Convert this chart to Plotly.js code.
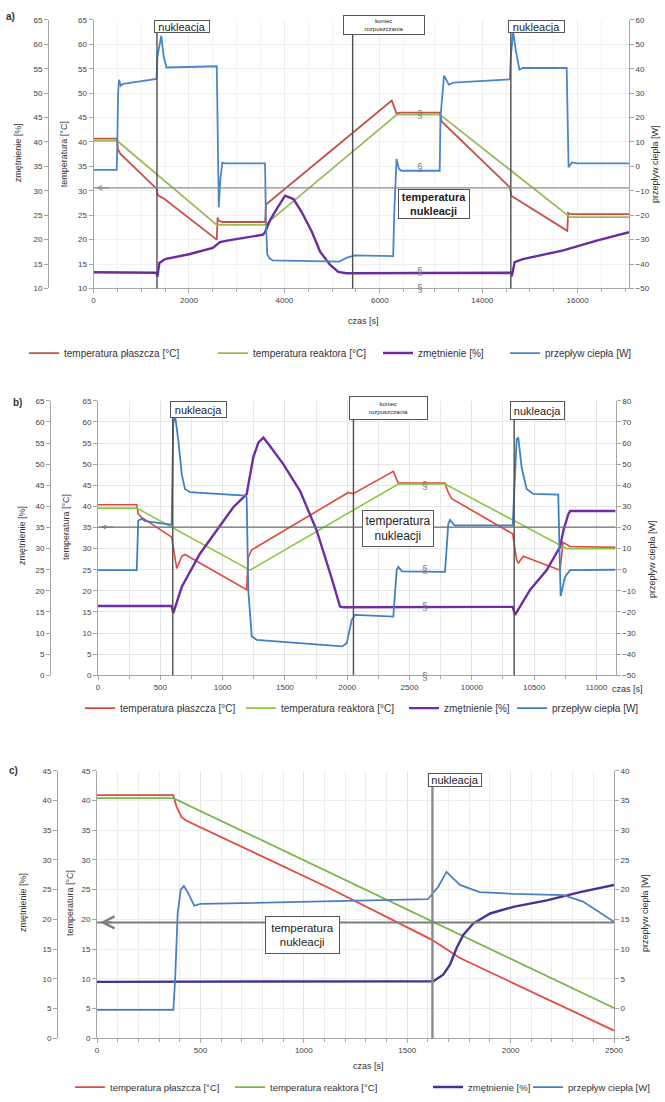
<!DOCTYPE html>
<html><head><meta charset="utf-8">
<script src="https://cdn.plot.ly/plotly-3.0.1.min.js"></script>
<style>html,body{margin:0;padding:0;background:#fff}#chart{width:665px;height:1102px}</style>
</head><body><div id="chart"></div>
<script>
// ---------------- DATA ----------------
const seriesNames = ['temperatura płaszcza [°C]', 'temperatura reaktora [°C]', 'zmętnienie [%]', 'przepływ ciepła [W]'];

// Panel a) – time [s]; axis broken between ~6845 s and ~12700 s
const aJacketT = [0, 486, 515, 560, 1325, 1345, 1400, 1460, 2583, 2600, 2625, 2700, 3595, 3615, 6250, 6350, 6420, 6840, 12700, 13110, 13150, 14580, 14610, 14650, 15783, 15800, 15850, 17076];
const aJacketV = [40.7, 40.7, 38.5, 37.6, 30.4, 29.2, 28.8, 28.5, 20.0, 24.5, 23.9, 23.6, 23.6, 27.2, 48.5, 45.8, 46.0, 46.0, 46.0, 46.0, 44.2, 30.7, 29.0, 28.7, 21.8, 25.5, 25.2, 25.2];
const aReactorT = [0, 500, 2583, 3595, 6356, 6840, 12700, 13114, 15840, 17076];
const aReactorV = [40.2, 40.2, 23.0, 23.0, 45.6, 45.6, 45.6, 45.6, 24.6, 24.6];
const aTurbT = [0, 1320, 1340, 1380, 1500, 2000, 2500, 2650, 2800, 3550, 3600, 3700, 3840, 4015, 4190, 4365, 4575, 4750, 4960, 5130, 5300, 6840, 12700, 14600, 14620, 14680, 14850, 15700, 16400, 17076];
const aTurbV = [13.3, 13.2, 12.4, 15.2, 16.0, 17.0, 18.3, 19.5, 19.8, 21.0, 21.6, 24.0, 26.3, 29.0, 28.3, 25.6, 21.6, 17.5, 14.8, 13.4, 13.1, 13.2, 13.2, 13.2, 12.5, 15.4, 16.0, 17.8, 19.8, 21.5];
const aHeatT = [0, 486, 500, 515, 535, 570, 620, 1320, 1340, 1420, 1470, 1530, 2583, 2600, 2625, 2660, 2700, 2760, 3595, 3610, 3640, 3680, 3750, 5150, 5300, 5480, 6280, 6300, 6350, 6400, 6450, 6840, 12700, 13110, 13125, 13200, 13300, 13400, 14580, 14600, 14650, 14700, 14780, 14850, 15770, 15790, 15810, 15880, 16000, 17076];
const aHeatV = [-1.4, -1.4, 10, 30, 35.5, 33.0, 33.8, 35.8, 45, 53.5, 45, 40.5, 41.0, 20, -16.7, -5, 1.5, 1.2, 1.2, -20, -36, -37.5, -38.5, -39.0, -37.5, -36.5, -36.8, -20, 3.0, -1.0, -1.8, -1.8, -1.8, -1.8, 20, 37.2, 33.5, 34.3, 35.6, 45, 55.2, 48, 39.6, 40.3, 40.3, 20, -0.4, 1.6, 1.2, 1.2];
const aNucleation = [1330, 14600];
const aEndDissolution = 5430;
const aNucTemp = 30.6;
const aTicks = [0, 2000, 4000, 6000, 14000, 16000];
const aMinorTicks = [0, 500, 1000, 1500, 2000, 2500, 3000, 3500, 4000, 4500, 5000, 5500, 6000, 6500, 13000, 13500, 14000, 14500, 15000, 15500, 16000, 16500, 17000];

// Panel b) – axis broken between ~2625 s and ~9625 s
const bJacketT = [0, 311, 323, 351, 591, 618, 632, 672, 698, 1193, 1206, 1234, 1942, 2009, 2049, 2370, 2410, 2620, 9630, 9785, 9811, 9839, 10328, 10360, 10373, 10413, 10708, 10732, 10788, 11154];
const bJacketV = [40.4, 40.4, 38.2, 37.4, 32.7, 28.4, 25.3, 28.2, 28.6, 20.3, 28.0, 29.7, 42.2, 43.3, 43.0, 48.3, 45.5, 45.5, 45.5, 45.5, 43.3, 41.8, 33.5, 27.3, 26.6, 28.2, 24.9, 31.5, 30.5, 30.3];
const bReactorT = [0, 311, 1220, 2410, 2620, 9630, 9785, 10761, 11154];
const bReactorV = [39.6, 39.6, 24.9, 45.3, 45.3, 45.3, 45.3, 30.0, 30.0];
const bTurbT = [0, 591, 604, 672, 818, 953, 1086, 1193, 1206, 1246, 1287, 1327, 1380, 1487, 1621, 1755, 1888, 1942, 1969, 2620, 9630, 10328, 10347, 10467, 10601, 10708, 10735, 10775, 10790, 11154];
const bTurbV = [16.4, 16.4, 14.7, 20.9, 28.8, 34.3, 39.8, 42.9, 45.3, 51.6, 55.1, 56.3, 54.3, 50.0, 43.7, 34.3, 21.8, 16.3, 16.1, 16.2, 16.2, 16.2, 14.3, 20.2, 24.9, 30.4, 34.3, 38.2, 38.9, 38.9];
const bHeatT = [0, 311, 323, 351, 380, 591, 604, 618, 645, 672, 698, 738, 1180, 1193, 1206, 1234, 1274, 1916, 1960, 1996, 2036, 2063, 2370, 2397, 2410, 2440, 2620, 9630, 9785, 9811, 9825, 9860, 10328, 10360, 10373, 10400, 10440, 10494, 10694, 10705, 10713, 10730, 10748, 10788, 11154];
const bHeatV = [-0.2, -0.2, 23.3, 24.1, 23.0, 21.3, 68.8, 73.5, 61.0, 45.3, 38.2, 36.7, 35.1, 34.3, -9.6, -31.6, -33.2, -36.0, -36.3, -34.8, -23.8, -21.4, -22.2, -0.2, 1.3, -0.8, -1.0, -1.0, -1.0, 21.7, 23.6, 21.0, 21.0, 61.8, 62.6, 48.4, 38.2, 35.9, 35.6, 6.0, -12.5, -8, -3.4, -0.2, 0];
const bNucleation = [600, 10340];
const bEndDissolution = 2050;
const bNucTemp = 35.1;
const bTicks = [0, 500, 1000, 1500, 2000, 2500, 10000, 10500, 11000];
const bMinorTicks = [0, 250, 500, 750, 1000, 1250, 1500, 1750, 2000, 2250, 2500, 9750, 10000, 10250, 10500, 10750, 11000];

// Panel c)
const cJacketT = [0, 369, 385, 409, 433, 1127, 1618, 1755, 2500];
const cJacketV = [40.9, 40.9, 38.9, 37.2, 36.6, 25.2, 16.6, 13.5, 1.3];
const cReactorT = [0, 369, 2500];
const cReactorV = [40.4, 40.4, 5.1];
const cTurbT = [0, 1626, 1674, 1707, 1739, 1771, 1819, 1901, 2013, 2175, 2336, 2500];
const cTurbV = [9.5, 9.6, 10.7, 12.4, 15.2, 17.4, 19.3, 21.0, 22.1, 23.2, 24.6, 25.8];
const cHeatT = [0, 369, 378, 390, 405, 420, 440, 470, 500, 1127, 1600, 1650, 1690, 1755, 1850, 2013, 2255, 2350, 2450, 2500];
const cHeatV = [-0.2, -0.2, 5, 16, 20.0, 20.6, 19.5, 17.3, 17.6, 18.0, 18.4, 20.5, 23.0, 20.8, 19.6, 19.3, 19.1, 18.0, 15.7, 14.6];
const cNucleation = [1622];
const cNucTemp = 19.5;

// ---------------- LAYOUT HELPERS ----------------
const W = 665, H = 1102;
const FONT = 'Liberation Sans, Arial, sans-serif';
const px = p => p / W;
const py = p => 1 - p / H;
const posA = t => t <= 6845 ? t : t - 5855;   // broken axis mapping
const posB = t => t <= 2625 ? t : t - 7000;
const posC = t => t;

const COL = {
  a: ['#c4504a', '#9bbb59', '#6a2c9e', '#4a86c5'],
  b: ['#e0473d', '#8cc63f', '#6e2ca6', '#3f80c4'],
  c: ['#e8473e', '#7ab648', '#4a3094', '#4a80c2']
};

const traces = [];
let legendCount = 0;
function addTrace(i, tArr, vArr, pos, xa, ya, color, width) {
  legendCount++;
  traces.push({
    type: 'scatter', mode: 'lines', name: seriesNames[i],
    x: tArr.map(pos), y: vArr, xaxis: xa, yaxis: ya,
    line: {color: color, width: width},
    legend: legendCount === 1 ? 'legend' : 'legend' + legendCount,
    showlegend: true, hoverinfo: 'skip'
  });
}
// panel a
addTrace(0, aJacketT, aJacketV, posA, 'x', 'y', COL.a[0], 1.8);
addTrace(1, aReactorT, aReactorV, posA, 'x', 'y', COL.a[1], 1.8);
addTrace(2, aTurbT, aTurbV, posA, 'x', 'y2', COL.a[2], 2.4);
addTrace(3, aHeatT, aHeatV, posA, 'x', 'y3', COL.a[3], 1.8);
// panel b
addTrace(0, bJacketT, bJacketV, posB, 'x2', 'y4', COL.b[0], 1.6);
addTrace(1, bReactorT, bReactorV, posB, 'x2', 'y4', COL.b[1], 1.6);
addTrace(2, bTurbT, bTurbV, posB, 'x2', 'y5', COL.b[2], 2.4);
addTrace(3, bHeatT, bHeatV, posB, 'x2', 'y6', COL.b[3], 1.8);
// panel c
addTrace(0, cJacketT, cJacketV, posC, 'x3', 'y7', COL.c[0], 1.8);
addTrace(1, cReactorT, cReactorV, posC, 'x3', 'y7', COL.c[1], 1.8);
addTrace(2, cTurbT, cTurbV, posC, 'x3', 'y8', COL.c[2], 2.4);
addTrace(3, cHeatT, cHeatV, posC, 'x3', 'y9', COL.c[3], 1.8);

const tickFont = {family: FONT, size: 8, color: '#404040'};
const AX = '#a6a6a6';
function xAxis(dom, range, anchor, tickvals, ticktext, minorVals, grid, minorGrid) {
  return {domain: dom, range: range, anchor: anchor, tickmode: 'array', tickvals: tickvals, ticktext: ticktext,
    showline: true, linecolor: AX, linewidth: 1, ticks: 'outside', ticklen: 4, tickcolor: AX,
    tickfont: tickFont, showgrid: true, gridcolor: grid, zeroline: false, fixedrange: true,
    minor: {tickmode: 'array', tickvals: minorVals, ticks: 'outside', ticklen: 3, tickcolor: AX, showgrid: true, gridcolor: minorGrid}};
}
function yTemp(dom, range, anchor, grid) {
  return {domain: dom, range: range, anchor: anchor, dtick: 5, showline: true, linecolor: AX, ticks: 'outside',
    ticklen: 4, tickcolor: AX, tickfont: tickFont, showgrid: true, gridcolor: grid, zeroline: false, fixedrange: true};
}
function yOuter(over, range, position) {
  return {overlaying: over, anchor: 'free', position: position, side: 'left', range: range, dtick: 5,
    showline: true, linecolor: AX, ticks: 'outside', ticklen: 4, tickcolor: AX, tickfont: tickFont,
    showgrid: false, zeroline: false, fixedrange: true};
}
function yRight(over, anchor, range, dtick) {
  return {overlaying: over, anchor: anchor, side: 'right', range: range, dtick: dtick,
    showline: true, linecolor: AX, ticks: 'outside', ticklen: 4, tickcolor: AX, tickfont: tickFont,
    showgrid: false, zeroline: false, fixedrange: true};
}

const layout = {
  width: W, height: H, margin: {l: 0, r: 0, t: 0, b: 0},
  paper_bgcolor: '#fff', plot_bgcolor: '#fff', hovermode: false,
  font: {family: FONT, color: '#333'},
  xaxis: xAxis([px(93.5), px(629)], [0, posA(17076)], 'y', aTicks.map(posA), aTicks.map(String), aMinorTicks.map(posA), '#ececec', '#f3f3f3'),
  yaxis: yTemp([py(290), py(20)], [10, 65], 'x', '#f0f0f0'),
  yaxis2: yOuter('y', [10, 65], px(48)),
  yaxis3: yRight('y', 'x', [-50, 60], 10),
  xaxis2: xAxis([px(98), px(615.6)], [0, posB(11154)], 'y4', bTicks.map(posB), bTicks.map(String), bMinorTicks.map(posB), '#e2e2e2', '#e9e9e9'),
  yaxis4: yTemp([py(679), py(403)], [0, 65], 'x2', '#e6e6e6'),
  yaxis5: yOuter('y4', [0, 65], px(50)),
  yaxis6: yRight('y4', 'x2', [-50, 80], 10),
  xaxis3: Object.assign(xAxis([px(97), px(614)], [0, 2500], 'y7', [0, 500, 1000, 1500, 2000, 2500], ['0', '500', '1000', '1500', '2000', '2500'], null, '#e4e4e4', '#ececec'),
    {minor: {tickmode: 'linear', tick0: 0, dtick: 100, ticks: 'outside', ticklen: 3, tickcolor: AX, showgrid: true, gridcolor: '#ececec'}}),
  yaxis7: yTemp([py(1044), py(775)], [0, 45], 'x3', '#ededed'),
  yaxis8: yOuter('y7', [0, 45], px(57)),
  yaxis9: yRight('y7', 'x3', [-5, 40], 5),
  shapes: [], annotations: []
};

// legends: one per entry so each sits where the original places it [text start x, y, font size]
const legendPos = [
  [64, 355, 10], [253, 355, 10], [418, 355, 10], [545, 355, 10],
  [120, 712, 10], [281, 712, 10], [444, 712, 10], [552, 712, 10],
  [110, 1093, 9.5], [270, 1093, 9.5], [468, 1093, 9.5], [568, 1093, 9.5]
];
legendPos.forEach((p, i) => {
  const key = i === 0 ? 'legend' : 'legend' + (i + 1);
  layout[key] = {x: px(p[0] - 40), y: py(p[1]), xanchor: 'left', yanchor: 'middle', orientation: 'h',
    bgcolor: 'rgba(0,0,0,0)', borderwidth: 0, itemwidth: 30, font: {family: FONT, size: p[2], color: '#333'}};
});

// vertical event lines
function vline(xref, x, yBottom, yTop, color, width) {
  layout.shapes.push({type: 'line', xref: xref, yref: 'paper', x0: x, x1: x, y0: py(yBottom), y1: py(yTop),
    line: {color: color, width: width}, layer: 'above'});
}
aNucleation.forEach(t => vline('x', posA(t), 290, 33, '#4d4d4d', 1.4));
vline('x', posA(aEndDissolution), 290, 35, '#4d4d4d', 1.4);
vline('x2', posB(bNucleation[0]), 679, 420, '#4d4d4d', 1.4);
vline('x2', posB(bNucleation[1]), 679, 422, '#4d4d4d', 1.4);
vline('x2', posB(bEndDissolution), 679, 422, '#4d4d4d', 1.4);
cNucleation.forEach(t => vline('x3', posC(t), 1044, 791, '#8a8a8a', 2.4));

// horizontal nucleation-temperature lines
function hline(xref, yref, y, color, width) {
  layout.shapes.push({type: 'line', xref: xref + ' domain', yref: yref, x0: 0, x1: 1, y0: y, y1: y,
    line: {color: color, width: width}, layer: 'above'});
}
hline('x', 'y', aNucTemp, '#8c8c8c', 1.4);
hline('x2', 'y4', bNucTemp, '#6e6e6e', 1.2);
hline('x3', 'y7', cNucTemp, '#7d7d7d', 2);

// arrow heads at the left end of the horizontal lines
function arrowHead(xref, yref, x, y, size, width, color) {
  layout.annotations.push({xref: xref, yref: yref, x: x, y: y, ax: 14, ay: 0, text: '', showarrow: true,
    arrowhead: 5, arrowsize: size, arrowwidth: width, arrowcolor: color});
}
arrowHead('x', 'y', posA(60), aNucTemp, 0.8, 1.2, '#8c8c8c');
arrowHead('x2', 'y4', posB(25), bNucTemp, 0.8, 1.0, '#6e6e6e');
arrowHead('x3', 'y7', posC(15), cNucTemp, 1.3, 1.8, '#7d7d7d');

// text boxes
function box(text, cx, cy, w, h, size, bold, bw) {
  layout.annotations.push({xref: 'paper', yref: 'paper', x: px(cx), y: py(cy), xanchor: 'center', yanchor: 'middle',
    text: bold ? '<b>' + text + '</b>' : text, showarrow: false, width: w, height: h, align: 'center', valign: 'middle',
    bgcolor: '#ffffff', bordercolor: '#555555', borderwidth: bw || 1, borderpad: 0,
    font: {family: FONT, size: size, color: '#222'}});
}
box('nukleacja', 182, 27, 54, 11, 11, false);
box('koniec<br>rozpuszczania', 384, 25, 80, 18, 6, false);
box('nukleacja', 536.5, 26.7, 55, 11, 11, false);
box('temperatura<br>nukleacji', 434, 205, 70, 28, 11, true);
box('nukleacja', 198.3, 411.5, 55, 15, 11, false);
box('koniec<br>rozpuszczania', 388.5, 410, 77, 22, 6, false);
box('nukleacja', 537.5, 412.5, 53, 17, 11, false);
box('temperatura<br>nukleacji', 397.5, 531.5, 70, 35, 12, false);
box('nukleacja', 455, 784, 52, 12, 11, false);
box('temperatura<br>nukleacji', 302.5, 940.5, 73, 36, 11.5, false);

// free text: panel letters, axis titles, break marks
function txt(text, x, y, size, angle, bold, color) {
  layout.annotations.push({xref: 'paper', yref: 'paper', x: px(x), y: py(y), xanchor: 'center', yanchor: 'middle',
    text: bold ? '<b>' + text + '</b>' : text, showarrow: false, textangle: angle || 0,
    font: {family: FONT, size: size, color: color || '#333'}});
}
txt('a)', 10, 17, 10, 0, true);
txt('b)', 17, 405, 10, 0, true);
txt('c)', 13, 775, 10, 0, true);
txt('zmętnienie [%]', 18, 154, 9, -90);
txt('temperatura [°C]', 64, 155, 9, -90);
txt('przepływ ciepła [W]', 655, 165, 9, -90);
txt('zmętnienie [%]', 22, 538, 9, -90);
txt('temperatura [°C]', 66, 530, 9, -90);
txt('przepływ ciepła [W]', 652, 562, 9, -90);
txt('zmętnienie [%]', 23, 908, 9, -90);
txt('temperatura [°C]', 70, 908, 9, -90);
txt('przepływ ciepła [W]', 645, 918, 9, -90);
txt('czas [s]', 363, 323, 9);
txt('czas [s]', 627, 693, 9);
txt('czas [s]', 368, 1072, 9);
[115, 168, 273, 290].forEach(y => txt('§', 420, y, 10, 0, false, '#777'));
[488, 573, 610, 680].forEach(y => txt('§', 425, y, 10, 0, false, '#777'));

Plotly.newPlot('chart', traces, layout, {displayModeBar: false, staticPlot: true});
</script>
</body></html>
